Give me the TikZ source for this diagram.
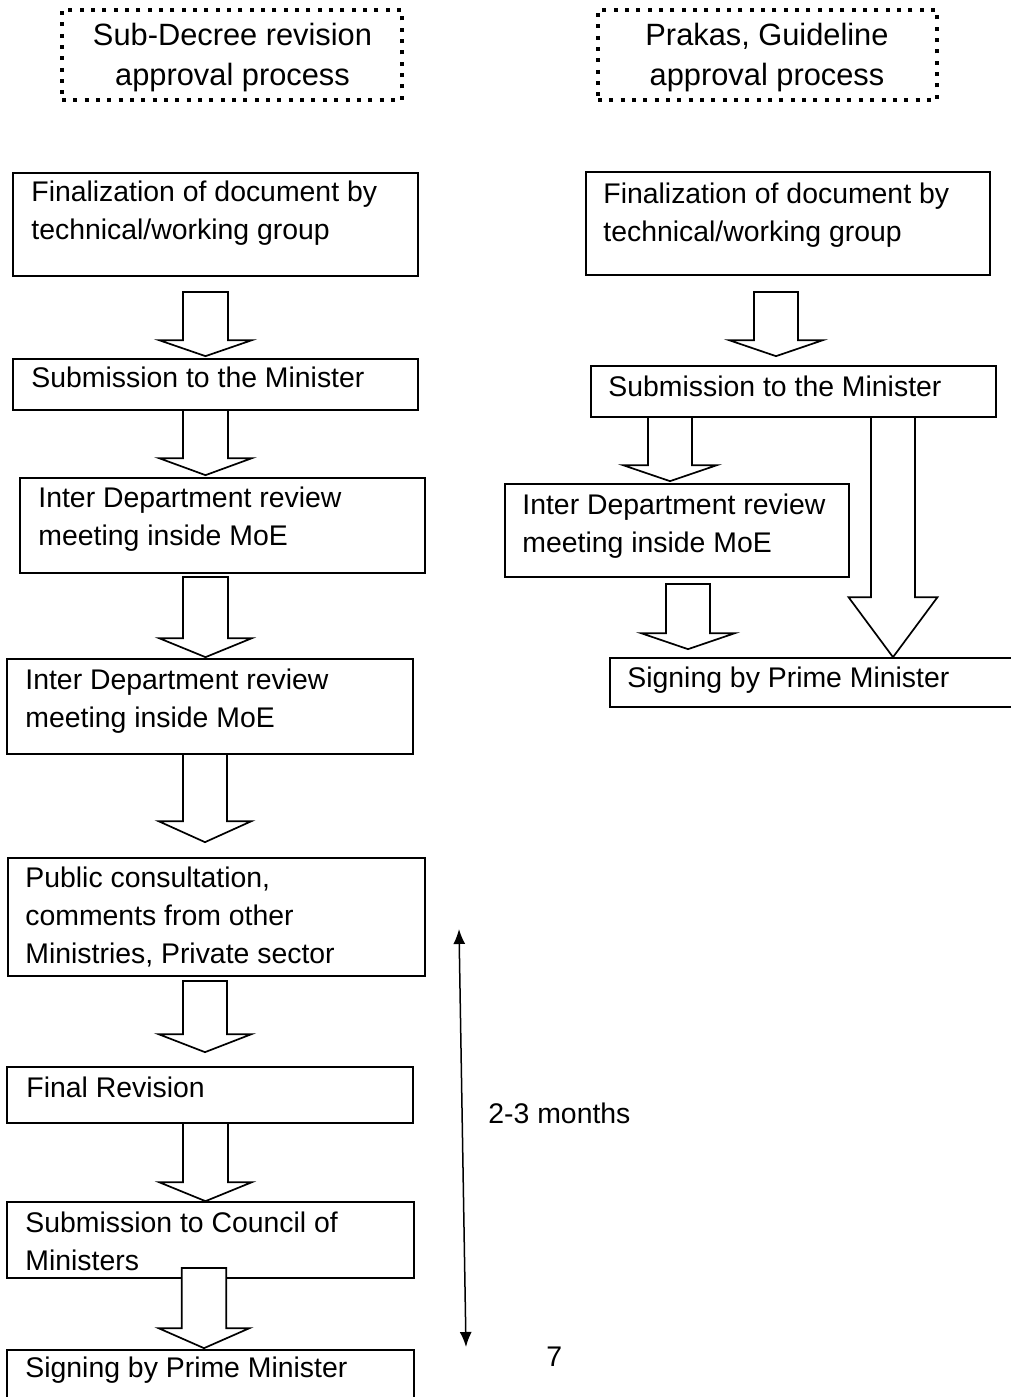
\documentclass[tikz,border=0pt]{standalone}
\usepackage{fontspec}
\setmainfont{Liberation Sans}
\usetikzlibrary{fit,calc,arrows.meta}

% Hollow block arrow: #1 start (top of shaft), #2 point giving the tip height,
% #3 half shaft width, #4 half head width, #5 head length (all in px units of the grid)
\newcommand\fatarrow[5]{%
  \draw[fat] let \p1=#1, \p2=#2 in
    ({\x1-#3*0.5pt},\y1) -- ({\x1-#3*0.5pt},{\y2+#5*0.5pt})
    -- ({\x1-#4*0.5pt},{\y2+#5*0.5pt}) -- (\x1,\y2)
    -- ({\x1+#4*0.5pt},{\y2+#5*0.5pt}) -- ({\x1+#3*0.5pt},{\y2+#5*0.5pt})
    -- ({\x1+#3*0.5pt},\y1) -- cycle;}

\tikzset{
  stepbox/.style={draw, line width=0.85pt, fill=white, inner sep=0pt},
  headbox/.style={draw, line width=2pt, dash pattern=on 2pt off 3.67pt, inner sep=0pt},
  lbl/.style={inner sep=0pt, align=left, font=\fontsize{14.2}{18.8}\selectfont},
  headlbl/.style={inner sep=0pt, align=center, font=\fontsize{15.4}{20}\selectfont},
  fat/.style={draw, line width=0.85pt, fill=white, line join=miter},
}

\begin{document}
\begin{tikzpicture}[x=0.5pt,y=-0.5pt]
\useasboundingbox (0,0) rectangle (1011,1397);
\clip (0,0) rectangle (1011,1397);

% ---- column headings
\node[headbox, fit={(62,10) (402,100)}] (h1) {};
\node[headbox, fit={(598,10) (937,100)}] (h2) {};
\node[headlbl, anchor=north] (h1t) at (232.5,22.5) {Sub-Decree revision\\approval process};
\node[headlbl, anchor=north] (h2t) at (767,22.5) {Prakas, Guideline\\approval process};

% ---- left column: Sub-Decree
\node[stepbox, fit={(13,173) (418,276)}] (b1) {};
\node[stepbox, fit={(13,359) (418,410)}] (b2) {};
\node[stepbox, fit={(20,478) (425,573)}] (b3) {};
\node[stepbox, fit={(7,659) (413,754)}] (b4) {};
\node[stepbox, fit={(8,858) (425,976)}] (b5) {};
\node[stepbox, fit={(7,1067) (413,1123)}] (b6) {};
\node[stepbox, fit={(7,1202) (414,1278)}] (b7) {};
\node[stepbox, fit={(7,1350) (414,1430)}] (b8) {};

% ---- right column: Prakas, Guideline
\node[stepbox, fit={(586,172) (990,275)}] (r1) {};
\node[stepbox, fit={(591,366) (996,417)}] (r2) {};
\node[stepbox, fit={(505,484) (849,577)}] (r3) {};
\node[stepbox, fit={(610,658) (1040,707)}] (r4) {};

% ---- block arrows, left column
\coordinate (a1) at (205.5,292);
\coordinate (a2) at (205.5,410);
\coordinate (a3) at (205.5,577);
\coordinate (a4) at (205,754);
\coordinate (a5) at (205,981);
\coordinate (a6) at (205.5,1123);
\coordinate (a7) at (204,1268);
\fatarrow{(a1)}{($(b2.north)+(0,-2)$)}{22.5}{46.5}{16}
\fatarrow{(a2)}{($(b3.north)+(0,-2)$)}{22.5}{46.5}{17}
\fatarrow{(a3)}{($(b4.north)+(0,-1)$)}{22.5}{46.5}{19}
\fatarrow{(a4)}{($(b5.north)+(0,-15)$)}{22}{46.5}{21}
\fatarrow{(a5)}{($(b6.north)+(0,-14)$)}{22}{46.5}{18}
\fatarrow{(a6)}{(b7.north)}{22.5}{46.5}{19}
\fatarrow{(a7)}{($(b8.north)+(0,-1)$)}{22.25}{45.5}{20}

% ---- block arrows, right column
\coordinate (ra1) at (776,292);
\coordinate (ra2) at (670,417);
\coordinate (ra3) at (688,584);
\coordinate (ra4) at (893,417);
\fatarrow{(ra1)}{($(r2.north)+(0,-9)$)}{22}{47}{16}
\fatarrow{(ra2)}{($(r3.north)+(0,-2)$)}{22}{47}{16}
\fatarrow{(ra3)}{($(r4.north)+(0,-8)$)}{22}{47}{16}
\fatarrow{(ra4)}{(r4.north)}{22}{44.5}{60}

% ---- duration marker
\coordinate (m1) at (459,929);
\coordinate (m2) at (466,1347);
\draw[line width=0.75pt, {Latex[length=7.5pt,width=6pt]}-{Latex[length=7.5pt,width=6pt]}] (m1) -- (m2);
\node[lbl, anchor=base west] (dur) at (488,1123) {2-3 months};
\node[lbl, anchor=base west] (pg) at (546,1366) {7};

% ---- step texts
\node[lbl, anchor=north west] (b1t) at (31,181) {Finalization of document by\\technical/working group};
\node[lbl, anchor=north west] (b2t) at (31,367) {Submission to the Minister};
\node[lbl, anchor=north west] (b3t) at (38,487) {Inter Department review\\meeting inside MoE};
\node[lbl, anchor=north west] (b4t) at (25,669) {Inter Department review\\meeting inside MoE};
\node[lbl, anchor=north west] (b5t) at (25,867) {Public consultation,\\comments from other\\Ministries, Private sector};
\node[lbl, anchor=north west] (b6t) at (26,1077) {Final Revision};
\node[lbl, anchor=north west] (b7t) at (25,1212) {Submission to Council of\\Ministers};
\node[lbl, anchor=north west] (b8t) at (25,1357) {Signing by Prime Minister};

\node[lbl, anchor=north west] (r1t) at (603,183) {Finalization of document by\\technical/working group};
\node[lbl, anchor=north west] (r2t) at (608,376) {Submission to the Minister};
\node[lbl, anchor=north west] (r3t) at (522,494) {Inter Department review\\meeting inside MoE};
\node[lbl, anchor=north west] (r4t) at (627,667) {Signing by Prime Minister};
\end{tikzpicture}
\end{document}
